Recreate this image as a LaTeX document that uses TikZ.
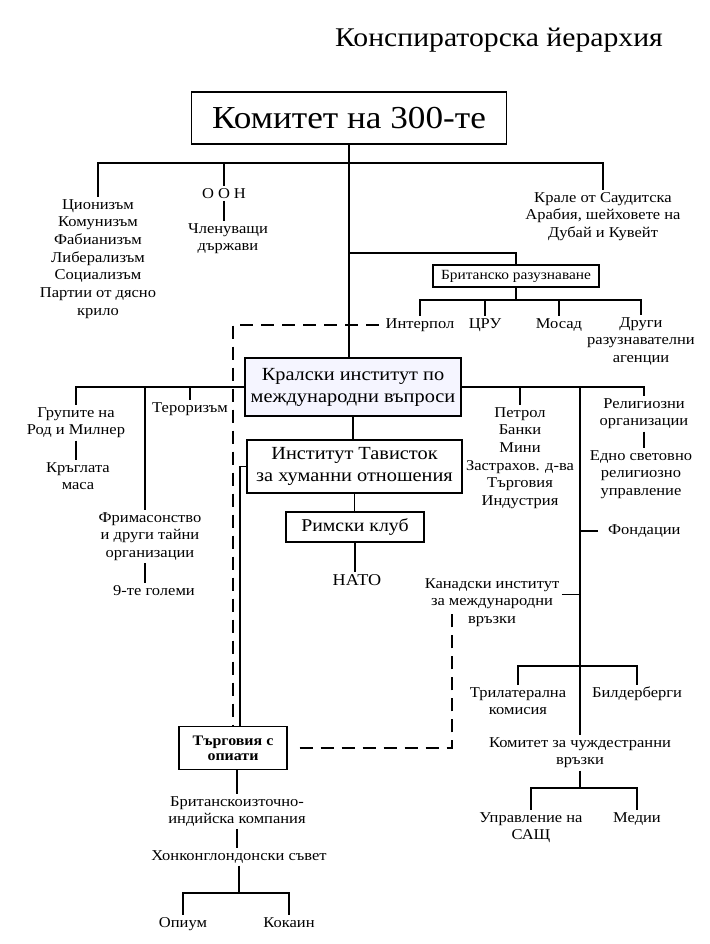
\documentclass[tikz,border=0pt]{standalone}
\usepackage{fontspec}
\setmainfont{Liberation Serif}[FakeStretch=1.1]
\begin{document}
\begin{tikzpicture}[x=1pt,y=-1pt,
  ln/.style={line width=1.1pt},
  dsh/.style={line width=1.9pt, dash pattern=on 13pt off 8pt},
  box/.style={draw, line width=1.2pt, inner sep=0pt, align=center},
  txt/.style={font=\fontsize{15}{17.7}\selectfont, align=center, inner sep=2.5pt},
]
\useasboundingbox (0,0) rectangle (709,944);
\coordinate (bus1) at (0,163);
\coordinate (bus2) at (0,253);
\coordinate (bus3) at (0,300);
\coordinate (bus5) at (0,666);
\coordinate (bus6) at (0,788);
\coordinate (bus7) at (0,893);
\coordinate (cdash) at (452,609);

% title
\node[font=\fontsize{27}{30}\selectfont, inner sep=0pt] (title) at (499,40) {Конспираторска йерархия};

% boxes
\node[box, minimum width=315pt, minimum height=52pt, font=\fontsize{32}{36}\selectfont] (c300) at (349,118) {Комитет на 300-те};
\node[box, minimum width=166pt, minimum height=22pt, font=\fontsize{14}{16}\selectfont] (brit) at (516,276) {Британско разузнаване};
\node[box, fill=blue!4, minimum width=216pt, minimum height=58pt, font=\fontsize{18.5}{22}\selectfont] (kral) at (353,387) {Кралски институт по\\международни въпроси};
\node[box, minimum width=215pt, minimum height=53pt, font=\fontsize{18.5}{22}\selectfont] (tav) at (354.5,466.5) {Институт Тависток\\за хуманни отношения};
\node[box, minimum width=138pt, minimum height=30pt, font=\fontsize{18}{20}\selectfont] (rim) at (355,527) {Римски клуб};
\node[box, minimum width=108pt, minimum height=43pt, font=\bfseries\fontsize{14.5}{15}\selectfont] (opium) at (233,748) {Търговия с\\опиати};

% text nodes
\node[txt, anchor=north] (zion) at (98,196.5) {Ционизъм\\Комунизъм\\Фабианизъм\\Либерализъм\\Социализъм\\Партии от дясно\\крило};
\node[txt, anchor=north] (oon) at (224,185.5) {О\hspace{4pt}О\hspace{4pt}Н};
\node[txt, anchor=north] (members) at (228,220.5) {Членуващи\\държави};
\node[txt, anchor=north] (kings) at (603,189.5) {Крале от Саудитска\\Арабия, шейховете на\\Дубай и Кувейт};
\node[txt, anchor=north] (interpol) at (420,315.5) {Интерпол};
\node[txt, anchor=north] (cia) at (485,315.5) {ЦРУ};
\node[txt, anchor=north] (mossad) at (559,315.5) {Мосад};
\node[txt, anchor=north] (other) at (641,314.5) {Други\\разузнавателни\\агенции};
\node[txt, anchor=north] (groups) at (76,404.5) {Групите на\\Род и Милнер};
\node[txt, anchor=north] (table) at (78,459.5) {Кръглата\\маса};
\node[txt, anchor=north] (terror) at (190,399.5) {Тероризъм};
\node[txt, anchor=north] (mason) at (150,509.5) {Фримасонство\\и други тайни\\организации};
\node[txt, anchor=north] (big9) at (154,582.5) {9-те големи};
\node[txt, anchor=north, font=\fontsize{16.5}{19}\selectfont] (nato) at (357,572) {НАТО};
\node[txt, anchor=north] (oil) at (520,404.5) {Петрол\\Банки\\Мини\\Застрахов. д-ва\\Търговия\\Индустрия};
\node[txt, anchor=north] (relig1) at (644,395.5) {Религиозни\\организации};
\node[txt, anchor=north] (relig2) at (641,447.5) {Едно световно\\религиозно\\управление};
\node[txt, anchor=west, inner xsep=10pt] (fund) at (598,531) {Фондации};
\node[txt, anchor=north] (canada) at (492,575.5) {Канадски институт\\за международни\\връзки};
\node[txt, anchor=north] (tri) at (518,684.5) {Трилатерална\\комисия};
\node[txt, anchor=north] (bild) at (637,684.5) {Билдерберги};
\node[txt, anchor=north] (forcom) at (580,734.5) {Комитет за чуждестранни\\връзки};
\node[txt, anchor=north] (usa) at (531,809.5) {Управление на\\САЩ};
\node[txt, anchor=north] (media) at (637,809.5) {Медии};
\node[txt, anchor=north] (eic) at (237,793.5) {Британскоизточно-\\индийска компания};
\node[txt, anchor=north] (hk) at (239,847.5) {Хонконглондонски съвет};
\node[txt, anchor=north] (opm) at (183,914.5) {Опиум};
\node[txt, anchor=north] (coca) at (289,914.5) {Кокаин};

% connectors
\draw[ln] (c300.south) -- (c300.south |- kral.north);
\draw[ln] (zion.north) |- (kings.north |- bus1) -- (kings.north);
\draw[ln] (oon.north) -- (oon.north |- bus1);
\draw[ln] (oon.south) -- (oon.south |- members.north);
\draw[ln] (c300.south |- bus2) -| (brit.north);
\draw[ln] (brit.south) -- (brit.south |- bus3);
\draw[ln] (interpol.north) |- (other.north |- bus3) -- (other.north);
\draw[ln] (cia.north) -- (cia.north |- bus3);
\draw[ln] (mossad.north) -- (mossad.north |- bus3);
\draw[dsh, shorten <=4pt] (interpol.west) -| (opium.north);
\draw[ln] (tav.west) -| ([xshift=7pt]opium.north);
\draw[dsh, shorten <=12pt] (opium.east) -| (cdash);
\draw[ln] (kral.south) -- (kral.south |- tav.north);
\draw[ln] (tav.south) -- (tav.south |- rim.north);
\draw[ln] (rim.south) -- (rim.south |- nato.north);
\draw[ln] (kral.west) -| (groups.north);
\draw[ln] ([xshift=-5pt]mason.north) -- ([xshift=-5pt]mason.north |- kral.west);
\draw[ln] (terror.north) -- (terror.north |- kral.west);
\draw[ln] (groups.south) -- (groups.south |- table.north);
\draw[ln] ([xshift=-5pt]mason.south) -- ([xshift=-5pt]mason.south |- big9.north);
\draw[ln] (kral.east) -| (relig1.north);
\draw[ln] (oil.north) -- (oil.north |- kral.east);
\draw[ln] (forcom.north |- kral.east) -- (forcom.north);
\draw[ln] (relig1.south) -- (relig1.south |- relig2.north);
\draw[ln] (fund.west) -- (fund.west -| forcom.north);
\draw[ln] ([yshift=8pt]canada.east) -- ([yshift=8pt]canada.east -| forcom.north);
\draw[ln] (tri.north) |- (bild.north |- bus5) -- (bild.north);
\draw[ln] (forcom.south) -- (forcom.south |- bus6);
\draw[ln] (usa.north) |- (media.north |- bus6) -- (media.north);
\draw[ln] (eic.north |- opium.south) -- (eic.north);
\draw[ln] (eic.south) -- (eic.south |- hk.north);
\draw[ln] (hk.south) -- (hk.south |- bus7);
\draw[ln] (opm.north) |- (coca.north |- bus7) -- (coca.north);
\end{tikzpicture}
\end{document}
